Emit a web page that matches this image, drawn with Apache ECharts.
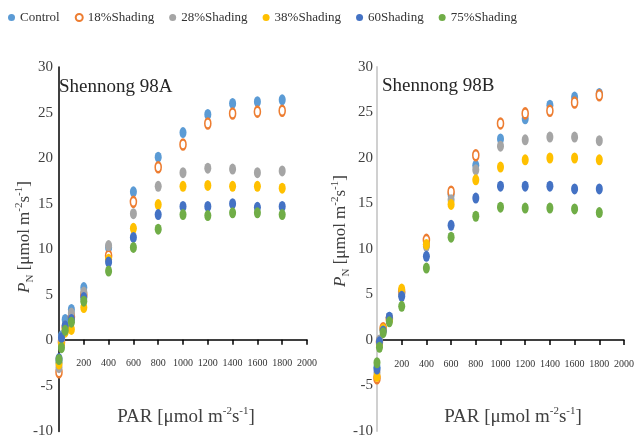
<!DOCTYPE html>
<html>
<head>
<meta charset="utf-8">
<script src="https://cdn.jsdelivr.net/npm/echarts@6/dist/echarts.min.js"></script>
<style>html,body{margin:0;padding:0;background:#fff;}#c{width:637px;height:439px;}</style>
</head>
<body>
<div id="c"></div>
<script>
// ---- data ----
const PAR = [0, 20, 50, 100, 200, 400, 600, 800, 1000, 1200, 1400, 1600, 1800];
const seriesNames = ['Control', '18%Shading', '28%Shading', '38%Shading', '60Shading', '75%Shading'];
const xTicks = [0, 200, 400, 600, 800, 1000, 1200, 1400, 1600, 1800, 2000];
const yTicks = [-10, -5, 0, 5, 10, 15, 20, 25, 30];
const panelTitles = ['Shennong 98A', 'Shennong 98B'];

// Shennong 98A
const controlA = [-2.4, 0.5, 2.3, 3.4, 5.8, 10.2, 16.3, 20.1, 22.8, 24.8, 26.0, 26.2, 26.4];
const shade18A = [-3.5, -0.2, 1.4, 2.6, 5.0, 9.3, 15.2, 19.0, 21.5, 23.8, 24.9, 25.1, 25.2];
const shade28A = [-3.0, 0.1, 1.6, 3.0, 5.3, 10.4, 13.9, 16.9, 18.4, 18.9, 18.8, 18.4, 18.6];
const shade38A = [-2.6, -0.4, 0.9, 1.2, 3.6, 8.9, 12.3, 14.9, 16.9, 17.0, 16.9, 16.9, 16.7];
const shade60A = [-2.0, 0.3, 1.6, 2.3, 4.7, 8.6, 11.3, 13.8, 14.7, 14.7, 15.0, 14.6, 14.7];
const shade75A = [-2.1, -0.8, 1.1, 2.0, 4.3, 7.6, 10.2, 12.2, 13.8, 13.7, 14.0, 14.0, 13.8];

// Shennong 98B
const controlB = [-3.0, -0.3, 1.2, 2.5, 5.2, 10.5, 16.0, 19.2, 22.1, 24.3, 25.8, 26.7, 27.1];
const shade18B = [-4.2, -0.2, 1.3, 2.3, 5.3, 11.0, 16.3, 20.3, 23.8, 24.9, 25.2, 26.1, 26.9];
const shade28B = [-3.6, 0.0, 1.1, 2.4, 5.0, 10.3, 15.4, 18.7, 21.3, 22.0, 22.3, 22.3, 21.9];
const shade38B = [-4.0, -0.5, 1.2, 2.2, 5.6, 10.5, 14.9, 17.6, 19.0, 19.8, 20.0, 20.0, 19.8];
const shade60B = [-3.2, -0.2, 1.0, 2.5, 4.8, 9.2, 12.6, 15.6, 16.9, 16.9, 16.9, 16.6, 16.6];
const shade75B = [-2.5, -0.8, 0.8, 2.0, 3.7, 7.9, 11.3, 13.6, 14.6, 14.5, 14.5, 14.4, 14.0];

const panelA = [controlA, shade18A, shade28A, shade38A, shade60A, shade75A];
const panelB = [controlB, shade18B, shade28B, shade38B, shade60B, shade75B];

// ---- style ----
const colors = ['#5B9BD5', '#ED7D31', '#A5A5A5', '#FFC000', '#4472C4', '#70AD47'];
const ELL = 'path://M0,5A5,5,0,1,1,10,5A5,5,0,1,1,0,5Z';
const FONT = 'Liberation Serif';
const Y_MIN = yTicks[0], Y_MAX = yTicks[yTicks.length - 1];
const gridsPx = [
  { left: 59, top: 67, width: 248, height: 367 },
  { left: 377, top: 67, width: 247, height: 364 }
];

function makeSeries(values, gi) {
  return values.map((arr, k) => {
    const hollow = k === 1;
    return {
      type: 'scatter',
      name: seriesNames[k],
      xAxisIndex: gi, yAxisIndex: gi,
      data: PAR.map((x, i) => [x, arr[i]]),
      symbol: ELL,
      symbolKeepAspect: false,
      symbolSize: hollow ? [6, 10] : [7, 11],
      itemStyle: hollow
        ? { color: '#ffffff', borderColor: colors[k], borderWidth: 2, opacity: 1 }
        : { color: colors[k], opacity: 1 },
      emphasis: { disabled: true },
      z: 2 + k
    };
  });
}

function xAxis(gi) {
  const g = gridsPx[gi];
  // move the whole axis (line, ticks, labels) up to y = 0
  const off = -g.height * (0 - Y_MIN) / (Y_MAX - Y_MIN);
  return {
    type: 'value', gridIndex: gi, min: xTicks[0], max: xTicks[xTicks.length - 1], interval: 200,
    position: 'bottom', offset: off,
    axisLine: { onZero: false, lineStyle: { color: '#000', width: 1.5 } },
    axisTick: { show: true, length: 5, lineStyle: { color: '#000', width: 1.5 } },
    axisLabel: { margin: 19, fontFamily: FONT, fontSize: 10, color: '#333', formatter: v => String(v) },
    splitLine: { show: false }
  };
}
function yAxis(gi) {
  const left = gi === 0;
  return {
    type: 'value', gridIndex: gi, min: Y_MIN, max: Y_MAX, interval: 5,
    axisLine: { show: true, onZero: false, lineStyle: { color: left ? '#000' : '#D0D0D0', width: left ? 1.5 : 2 } },
    axisTick: { show: false },
    axisLabel: { margin: left ? 6 : 4, fontFamily: FONT, fontSize: 15, color: '#404040' },
    splitLine: { show: false }
  };
}

const unitRich = {
  s: { fontSize: 11, verticalAlign: 'top', lineHeight: 12, fontFamily: FONT, fill: '#404040' },
  p: { fontStyle: 'italic', fontSize: 17, lineHeight: 22, fontFamily: FONT, fill: '#404040' },
  n: { fontSize: 11, verticalAlign: 'bottom', lineHeight: 14, fontFamily: FONT, fill: '#404040' }
};

function textEl(x, y, text, size, rot) {
  return {
    type: 'text', x: x, y: y, rotation: rot || 0, z: 100,
    style: {
      text: text, rich: unitRich, fontFamily: FONT, fontSize: size, lineHeight: 22,
      fill: '#404040', align: 'center', verticalAlign: 'middle'
    }
  };
}

const option = {
  animation: false,
  backgroundColor: '#fff',
  legend: {
    top: 6, left: 3,
    itemGap: 15, itemWidth: 7, itemHeight: 10,
    textStyle: { fontFamily: FONT, fontSize: 13, color: '#333' },
    data: seriesNames.map(n => ({ name: n, icon: ELL })),
    selectedMode: false
  },
  grid: gridsPx,
  xAxis: [xAxis(0), xAxis(1)],
  yAxis: [yAxis(0), yAxis(1)],
  series: makeSeries(panelA, 0).concat(makeSeries(panelB, 1)),
  graphic: [
    { type: 'text', left: 59, top: 78, z: 100, style: { text: panelTitles[0], fontFamily: FONT, fontSize: 19, fill: '#262626' } },
    { type: 'text', left: 382, top: 77, z: 100, style: { text: panelTitles[1], fontFamily: FONT, fontSize: 19, fill: '#262626' } },
    textEl(186, 417, 'PAR [μmol m{s|-2}s{s|-1}]', 19, 0),
    textEl(513, 417, 'PAR [μmol m{s|-2}s{s|-1}]', 19, 0),
    textEl(25, 237, '{p|P}{n|N} [μmol m{s|-2}s{s|-1}]', 17, Math.PI / 2),
    textEl(341, 231, '{p|P}{n|N} [μmol m{s|-2}s{s|-1}]', 17, Math.PI / 2)
  ]
};

const chart = echarts.init(document.getElementById('c'), null, { renderer: 'canvas' });
chart.setOption(option);
</script>
</body>
</html>
